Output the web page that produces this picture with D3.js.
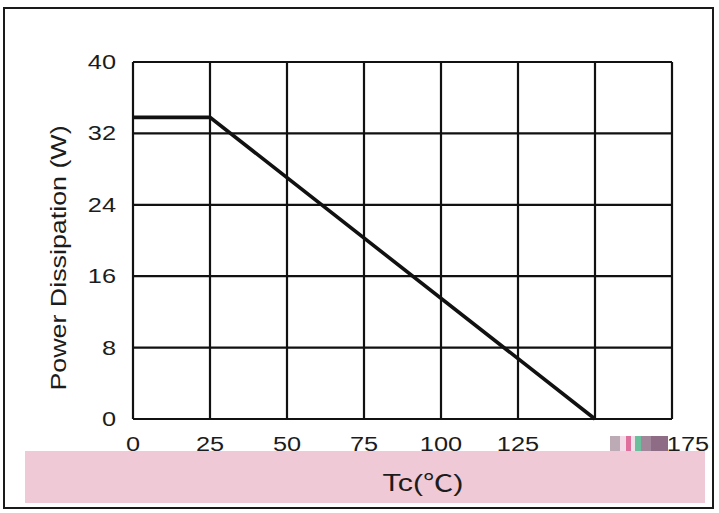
<!DOCTYPE html>
<html>
<head>
<meta charset="utf-8">
<script src="https://cdn.jsdelivr.net/npm/d3@7"></script>
<style>
  html, body { margin: 0; padding: 0; background: #ffffff; }
  svg { display: block; }
  text { font-family: "Liberation Sans", Arial, "Noto Sans CJK SC", sans-serif; fill: #1c1c1c; }
</style>
</head>
<body>
<div id="chart"></div>
<script>
// ---- data ----
const xTicks = [0, 25, 50, 75, 100, 125, 150, 175];
const yTicks = [0, 8, 16, 24, 32, 40];
const tempC  = [0, 25, 150];
const powerW = [33.8, 33.8, 0];
const xTitle = "Tc(℃)";
const yTitle = "Power Dissipation (W)";

// ---- layout ----
const W = 719, H = 513;
const plot = { left: 133, right: 672, top: 62, bottom: 419 };

const svg = d3.select("#chart").append("svg")
  .attr("width", W).attr("height", H);

svg.append("rect").attr("width", W).attr("height", H).attr("fill", "#fff");

// outer frame
svg.append("rect")
  .attr("x", 4).attr("y", 8).attr("width", 709).attr("height", 500)
  .attr("fill", "none").attr("stroke", "#1a1a1a").attr("stroke-width", 2);

const x = d3.scaleLinear().domain([0, 175]).range([plot.left, plot.right]);
const y = d3.scaleLinear().domain([0, 40]).range([plot.bottom, plot.top]);

// grid
const g = svg.append("g");
g.selectAll("line.v").data(xTicks).join("line")
  .attr("x1", d => x(d)).attr("x2", d => x(d))
  .attr("y1", y(0)).attr("y2", y(40))
  .attr("stroke", "#111").attr("stroke-width", 2.2);
g.selectAll("line.h").data(yTicks).join("line")
  .attr("x1", x(0)).attr("x2", x(175))
  .attr("y1", d => y(d)).attr("y2", d => y(d))
  .attr("stroke", "#111").attr("stroke-width", 2.2);

// data line
const line = d3.line().x(d => x(d[0])).y(d => y(d[1]));
svg.append("path")
  .datum(tempC.map((t, i) => [t, powerW[i]]))
  .attr("d", line)
  .attr("fill", "none").attr("stroke", "#111")
  .attr("stroke-width", 3.6).attr("stroke-linejoin", "miter");

// y tick labels
svg.selectAll("text.ytick").data(yTicks).join("text")
  .attr("class", "ytick")
  .attr("transform", d => `translate(116,${y(d) + 7}) scale(1.3,1)`)
  .attr("text-anchor", "end")
  .style("font-size", "19.5px")
  .text(d => d);

// x tick labels (last two are displaced in the source)
const xLabelShift = [0, 0, 0, 0, 0, 0, 38, 16];
svg.selectAll("text.xtick").data(xTicks).join("text")
  .attr("class", "xtick")
  .attr("transform", (d, i) => `translate(${x(d) + xLabelShift[i]},451) scale(1.3,1)`)
  .attr("text-anchor", "middle")
  .style("font-size", "19.5px")
  .text(d => d);

// smudge over the "150" label
const smudge = [
  { dx: 15, w: 10, c: "#bcaab4" },
  { dx: 25, w: 6,  c: "#f2dbe6" },
  { dx: 31, w: 5,  c: "#df6f9d" },
  { dx: 36, w: 4,  c: "#efdfe9" },
  { dx: 40, w: 6,  c: "#6cbf9c" },
  { dx: 46, w: 10, c: "#a28699" },
  { dx: 56, w: 17, c: "#8f6c86" }
];
svg.selectAll("rect.smudge").data(smudge).join("rect")
  .attr("x", d => x(150) + d.dx).attr("y", 436)
  .attr("width", d => d.w).attr("height", 17)
  .attr("fill", d => d.c);

// pink band with x title
svg.append("rect")
  .attr("x", 25).attr("y", 451).attr("width", 680).attr("height", 52)
  .attr("fill", "#efc9d6");

svg.append("text")
  .attr("transform", "translate(423,491) scale(1.32,1)")
  .attr("text-anchor", "middle")
  .style("font-size", "23px")
  .text(xTitle);

// y title
svg.append("text")
  .attr("transform", "translate(66,258) rotate(-90) scale(1.22,1)")
  .attr("text-anchor", "middle")
  .style("font-size", "22px")
  .text(yTitle);
</script>
</body>
</html>
